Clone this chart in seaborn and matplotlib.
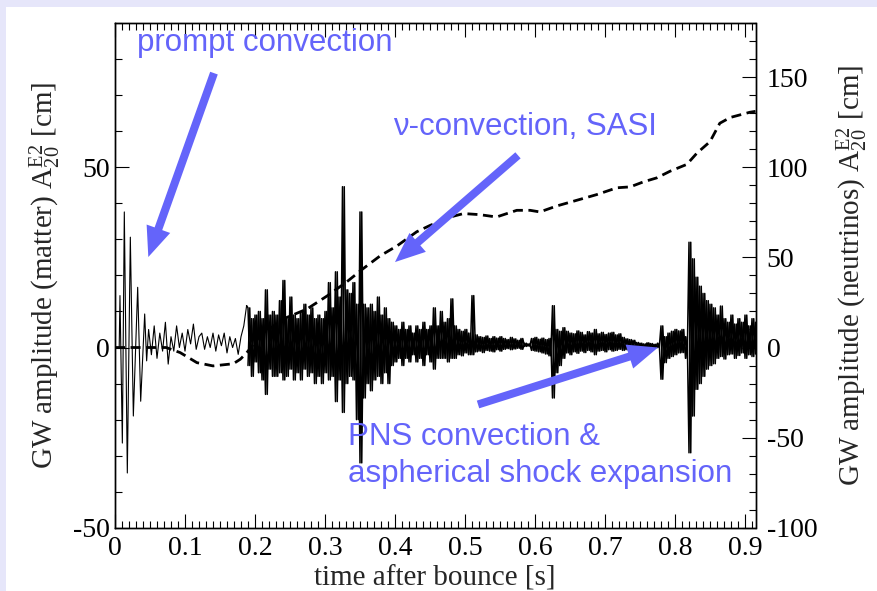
import numpy as np
import pandas as pd
import matplotlib
matplotlib.use("Agg")
import matplotlib.pyplot as plt
import seaborn as sns
from matplotlib.patches import Rectangle
from matplotlib.ticker import MultipleLocator

# ---------------- data ----------------
# prompt-convection burst (matter signal, left axis)
t_early = [0.0, 0.006, 0.0071, 0.0105, 0.0133, 0.0176, 0.0219, 0.0262, 0.0324, 0.0367, 0.0424, 0.0452]
v_early = [0.0, 0.0, 14.4, -26.5, 37.6, -34.8, 30.6, -19.0, 16.7, -14.9, 9.3, -3.7]

# quiet phase, sampled every 4 ms from 0.048 s
t_quiet_start, t_quiet_step = 0.048, 0.004
v_quiet = [5, -2, 6, -3, 4, -1, 7, -4.6, 3, -1,
           6, 0, 4, -1, 5, 1, 6.5, -0.5, 3,
           4, -0.5, 3, 0, 4, -1, 3.5, 0.5, 4, -1.5, 3, 0, 2.5, -1.9, 3,
           6, 11.6]

# dense phase: upper / lower excursions every 5 ms from 0.19 s
t_dense_start, t_dense_step = 0.19, 0.005
v_hi = [11, 8, 9,
        10, 8, 16, 9, 10,
        9, 13, 18.6, 8, 14, 9,
        8, 10, 12, 9, 11, 8,
        9, 8, 10, 18, 11, 21,
        14, 44.6, 16, 15, 18, 12,
        37.6, 12, 11, 12,
        10, 14, 9, 11, 8,
        7, 6, 5, 7, 5, 6, 4, 6, 5, 7, 5, 6, 11, 6, 10,
        7, 8, 13.5, 6,
        5, 4.5, 5, 4, 14.4,
        3.5, 3, 2.8, 3.2, 2.5, 3, 2.6, 3,
        2.5, 2.2, 2.8, 2.4, 2, 2.5,
        1.2, 1,
        2.5, 2.8, 2.3, 2.6, 2.2, 2.5,
        11.6,
        5, 4.5, 5.5,
        4.5, 4, 3.8, 4.6, 4.2, 3.5, 4.4, 4, 5, 3.8, 4.2, 3.6, 4, 4.2, 3.5, 3.8,
        2.8, 2.4, 2.2, 2,
        1.4, 1.2, 1, 1.3, 1.1, 0.9, 1.2,
        6,
        3, 4, 4.5, 5, 4.6, 5,
        3,
        29.2,
        24.6, 19.5, 17,
        15, 13, 12, 11,
        9, 11.5, 8, 7, 9, 6.5, 8, 7, 9, 6, 8, 7]
v_lo = [-5, -8, -4,
        -7, -9, -13, -6, -8,
        -8, -7, -9, -8, -6, -9,
        -7, -9, -6, -8, -7, -10,
        -8, -10, -7, -9, -8, -15,
        -9, -18, -10, -8, -9, -20,
        -32, -14, -10, -12,
        -9, -8, -10, -7, -10,
        -5, -4, -3, -5, -3, -4, -2, -4, -3, -5, -2, -4, -6, -3, -3,
        -3, -4, -3, -3,
        -2, -2.3, -1.5, -2, -2,
        -1.2, -1, -1.4, -0.8, -1, -1.2, -0.6, -1,
        -0.5, -0.3, -0.6, -0.4, -0.2, -0.5,
        0.3, 0.4,
        -0.8, -1, -1.2, -1.5, -1.8, -2.3,
        -14,
        -7, -5, -3,
        -1.5, -2, -1.2, -1.6, -1, -1.4, -0.8, -1.2, -2, -1, -0.8, -1.2, -0.6, -1, -0.8, -0.5,
        -0.8, -0.6, -0.4, -0.2,
        0, 0.2, -0.2, 0, 0.1, -0.1, 0,
        -8.8,
        -4.2, -3, -2.5, -2, -1.5, -1.4,
        -3,
        -29.2,
        -19, -11.6, -10,
        -8, -6, -5, -4.5,
        -3, -2.5, -3.2, -2, -1.8, -3, -2.2, -1.5, -3, -2, -2.5, -1.8]

# neutrino signal (dashed, right axis)
t_nu = [0, 0.073, 0.093, 0.117, 0.14, 0.169, 0.179, 0.188, 0.207, 0.24,
        0.274, 0.303, 0.331, 0.354, 0.379, 0.403, 0.431, 0.45, 0.479, 0.498,
        0.521, 0.545, 0.574, 0.593, 0.607, 0.631, 0.66, 0.688, 0.717, 0.736,
        0.755, 0.774, 0.793, 0.817, 0.831, 0.85, 0.864, 0.879, 0.907, 0.915]
v_nu = [0, 0, -2.8, -8.4, -10.2, -9.0, -6.5, -3.0, 6.3, 15.8,
        21.3, 28.6, 36.4, 43.6, 50.9, 56.4, 64.2, 67.7, 72.4, 74.3,
        73.7, 72.4, 76.1, 76.1, 75.2, 78.5, 81.7, 84.8, 88.6, 89.1,
        91.9, 94.1, 97.8, 101.6, 107.7, 114.2, 124.4, 127.6, 130.5, 131]

x_ticks = [0, 0.1, 0.2, 0.3, 0.4, 0.5, 0.6, 0.7, 0.8, 0.9]
x_tick_labels = ["0", "0.1", "0.2", "0.3", "0.4", "0.5", "0.6", "0.7", "0.8", "0.9"]
yl_ticks = [-50, 0, 50]
yl_tick_labels = ["-50", "0", "50"]
yr_ticks = [-100, -50, 0, 50, 100, 150]
yr_tick_labels = ["-100", "-50", "0", "50", "100", "150"]

annot_texts = ["prompt convection", "\u03bd-convection, SASI",
               "PNS convection &", "aspherical shock expansion"]
annot_pos = [(0.0314, 82.2), (0.397, 58.9), (0.333, -26.9), (0.333, -37.2)]
arrow_tails = [(0.1414, 76.1), (0.5757, 53.3), (0.5186, -15.8)]
arrow_tips = [(0.0476, 25.1), (0.400, 23.7), (0.7757, 0.0)]

# ---------------- build series ----------------
n_q = len(v_quiet)
t_quiet = [round(t_quiet_start + t_quiet_step * i, 4) for i in range(n_q)]
n_d = min(len(v_hi), len(v_lo))
t_d, v_a, v_b = [], [], []
for i in range(n_d):
    t0 = t_dense_start + t_dense_step * i
    t_d += [t0, t0 + t_dense_step / 2]
    v_a += [v_hi[i], v_lo[i]]      # zig-zag through the read extremes
    v_b += [v_lo[i], v_hi[i]]      # same extremes, opposite phase (fills the band)

df_early = pd.DataFrame({"t": t_early + t_quiet, "v": v_early + v_quiet})
df_dense_a = pd.DataFrame({"t": [t_quiet[-1]] + t_d, "v": [v_quiet[-1]] + v_a})
df_dense_b = pd.DataFrame({"t": t_d, "v": v_b})
df_nu = pd.DataFrame({"t": t_nu, "v": v_nu})

# ---------------- style ----------------
sns.set_theme(style="white")
plt.rcParams["font.family"] = ["Liberation Serif", "DejaVu Serif"]
plt.rcParams["mathtext.fontset"] = "custom"
plt.rcParams["mathtext.rm"] = "Liberation Serif"
plt.rcParams["mathtext.it"] = "Liberation Serif:italic"
plt.rcParams["axes.unicode_minus"] = False

W, H = 878, 591
fig = plt.figure(figsize=(W / 100, H / 100), dpi=100, facecolor="#e6e6fa")
fig.patches.append(Rectangle((6 / W, 0), 1 - 6 / W, 1 - 7 / H, transform=fig.transFigure,
                             facecolor="white", edgecolor="none", zorder=-10))
ax = fig.add_axes([115 / W, 1 - 527.8 / H, (755.5 - 115) / W, (527.8 - 23) / H])
ax.set_facecolor("white")
ax2 = ax.twinx()

sns.lineplot(data=df_early, x="t", y="v", ax=ax, color="black", lw=0.8,
             estimator=None, sort=False, legend=False)
sns.lineplot(data=df_dense_a, x="t", y="v", ax=ax, color="black", lw=1.1,
             estimator=None, sort=False, legend=False)
sns.lineplot(data=df_dense_b, x="t", y="v", ax=ax, color="black", lw=1.1,
             estimator=None, sort=False, legend=False)
sns.lineplot(data=df_nu, x="t", y="v", ax=ax2, color="black", lw=2.0,
             estimator=None, sort=False, legend=False, dashes=False)
ax2.lines[-1].set_dashes((3.6, 2.0))

ax.set_xlim(0, 0.915)
ax.set_ylim(-50, 90)
ax2.set_ylim(-100, 180)

ax.set_xticks(x_ticks, x_tick_labels)
ax.set_yticks(yl_ticks, yl_tick_labels)
ax2.set_yticks(yr_ticks, yr_tick_labels)
ax.xaxis.set_minor_locator(MultipleLocator(0.01))
ax.yaxis.set_minor_locator(MultipleLocator(10))
ax2.yaxis.set_minor_locator(MultipleLocator(10))

tick_fs = 20
ax.tick_params(axis="x", which="both", direction="in", top=True, bottom=True, labelsize=tick_fs, pad=6, colors="black")
ax.tick_params(axis="y", which="both", direction="in", left=True, right=False, labelsize=tick_fs, pad=4, colors="black")
ax2.tick_params(axis="y", which="both", direction="in", left=False, right=True, labelsize=tick_fs, pad=8, colors="black")
for a in (ax, ax2):
    a.tick_params(which="major", length=10, width=0.8)
    a.tick_params(which="minor", length=5, width=0.8)
    for s in a.spines.values():
        s.set_color("black")
        s.set_linewidth(1.0)

label_fs = 21
ax.set_xlabel("time after bounce [s]", fontsize=label_fs, labelpad=3)
ax.set_ylabel(r"GW amplitude (matter) $\mathrm{A}_{20}^{\mathrm{E2}}$ [cm]", fontsize=label_fs, labelpad=7)
ax2.set_ylabel(r"GW amplitude (neutrinos) $\mathrm{A}_{20}^{\mathrm{E2}}$ [cm]", fontsize=label_fs, labelpad=12,
               rotation=90)

blue = "#6464fa"
for tail, tip in zip(arrow_tails, arrow_tips):
    ax2.annotate("", xy=tip, xytext=tail, xycoords=ax.transData, textcoords=ax.transData,
                 arrowprops=dict(arrowstyle="simple,head_length=1.08,head_width=0.9,tail_width=0.29",
                                 mutation_scale=20, fc=blue, ec="none", shrinkA=0, shrinkB=0),
                 zorder=10)
for txt, (x, y) in zip(annot_texts, annot_pos):
    ax2.text(x, y, txt, transform=ax.transData, color=blue, fontsize=22.5,
             family=["Liberation Sans", "DejaVu Sans"], ha="left", va="baseline", zorder=11)

fig.savefig("out.png", dpi=100, facecolor=fig.get_facecolor())
